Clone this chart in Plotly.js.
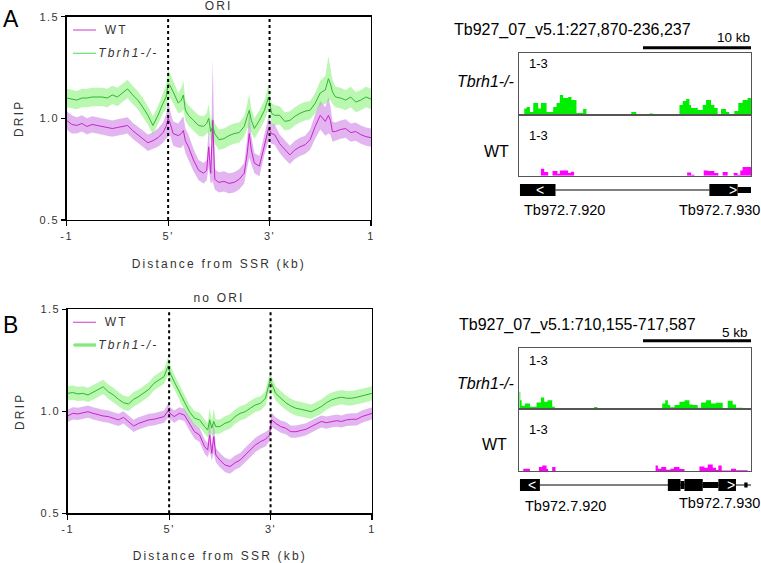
<!DOCTYPE html>
<html><head><meta charset="utf-8">
<script src="https://cdn.plot.ly/plotly-3.0.1.min.js"></script>
<style>
body{margin:0;background:#fff}
#chart .xtick text, #chart .ytick text, #chart .x2tick text, #chart .y2tick text { letter-spacing: 1.5px !important; }
#chart .g-xtitle text, #chart .g-ytitle text, #chart .g-x2title text, #chart .g-y2title text { letter-spacing: 2.2px !important; }
</style>
</head><body><div id="chart" style="width:761px;height:563px"></div>
<script>
// ---------- Panel A (ORI) profile data ----------
const posA = [0,5,10,15,20,25,30,35,40,45,50,55,60,65,70,75,80,85,90,95,98,100,102,105,110,113,115,117,120,125,130,135,138,140,142,144,146,150,155,160,165,170,175,178,180,182,185,190,195,199,202,205,210,215,220,225,230,235,240,245,250,255,258,260,262,265,270,275,280,285,290,295,300];
const wtA = [0.99,0.97,0.965,0.975,0.96,0.97,0.965,0.96,0.955,0.95,0.955,0.96,0.965,0.94,0.92,0.90,0.88,0.89,0.905,0.93,0.96,1.0,0.975,0.925,0.915,0.925,0.94,0.89,0.86,0.795,0.745,0.73,0.745,0.86,0.73,0.99,0.70,0.685,0.69,0.68,0.685,0.70,0.73,0.83,0.925,0.845,0.78,0.765,0.875,0.95,0.925,0.92,0.875,0.845,0.82,0.845,0.86,0.87,0.895,0.96,1.015,0.985,1.015,0.99,0.935,0.935,0.945,0.95,0.93,0.935,0.92,0.91,0.905];
const wtA_sem = [0.045,0.045,0.04,0.04,0.04,0.04,0.04,0.04,0.04,0.04,0.04,0.04,0.04,0.04,0.04,0.04,0.04,0.04,0.045,0.05,0.06,0.09,0.06,0.06,0.06,0.07,0.07,0.06,0.06,0.055,0.05,0.05,0.05,0.1,0.05,0.3,0.05,0.05,0.05,0.05,0.05,0.05,0.05,0.07,0.12,0.07,0.05,0.05,0.05,0.06,0.05,0.05,0.045,0.045,0.045,0.045,0.045,0.045,0.05,0.06,0.07,0.07,0.09,0.07,0.05,0.045,0.045,0.045,0.045,0.045,0.045,0.045,0.045];
const koA = [1.10,1.095,1.09,1.10,1.10,1.105,1.105,1.105,1.10,1.115,1.105,1.125,1.145,1.115,1.09,1.055,1.015,0.965,1.015,1.075,1.105,1.17,1.16,1.13,1.075,1.09,1.115,1.04,1.015,0.99,0.965,0.96,0.975,1.0,0.935,0.96,0.925,0.895,0.9,0.915,0.925,0.93,0.96,1.01,1.04,0.99,0.95,0.99,1.04,1.105,1.025,1.015,1.015,0.985,0.99,1.01,1.025,1.035,1.04,1.075,1.125,1.14,1.195,1.17,1.13,1.105,1.10,1.09,1.105,1.08,1.09,1.105,1.095];
const koA_sem = [0.045,0.045,0.045,0.045,0.045,0.045,0.045,0.045,0.045,0.045,0.045,0.045,0.045,0.045,0.045,0.045,0.045,0.045,0.045,0.05,0.06,0.07,0.06,0.055,0.05,0.06,0.07,0.05,0.05,0.05,0.05,0.05,0.05,0.07,0.05,0.05,0.05,0.05,0.05,0.05,0.05,0.05,0.05,0.06,0.08,0.06,0.05,0.05,0.05,0.06,0.05,0.05,0.045,0.045,0.045,0.045,0.045,0.045,0.045,0.05,0.06,0.07,0.11,0.08,0.06,0.05,0.05,0.05,0.05,0.05,0.05,0.05,0.05];

// ---------- Panel B (no ORI) profile data ----------
const posB = [0,5,10,15,20,25,30,35,40,45,50,55,60,65,70,75,80,85,90,95,99,101,105,110,115,120,125,130,135,138,140,142,144,146,150,155,160,165,170,175,180,185,190,195,199,201,205,210,215,220,225,230,235,240,245,250,255,260,265,270,275,280,285,290,295,300];
const wtB = [0.977,0.99,0.987,0.993,0.998,0.99,0.982,0.977,0.974,0.966,0.958,0.97,0.95,0.928,0.941,0.95,0.958,0.961,0.966,0.974,1.003,0.99,0.974,0.99,0.982,0.941,0.90,0.884,0.827,0.81,0.884,0.794,0.876,0.786,0.761,0.737,0.729,0.748,0.761,0.786,0.81,0.835,0.851,0.863,0.884,0.958,0.941,0.925,0.917,0.90,0.90,0.905,0.912,0.925,0.938,0.95,0.944,0.95,0.954,0.95,0.958,0.961,0.961,0.974,0.982,0.99];
const wtB_sem = [0.03,0.03,0.03,0.03,0.03,0.03,0.03,0.03,0.03,0.03,0.03,0.03,0.03,0.03,0.03,0.03,0.03,0.03,0.03,0.03,0.035,0.03,0.03,0.03,0.03,0.035,0.035,0.035,0.035,0.035,0.08,0.035,0.08,0.035,0.035,0.035,0.035,0.035,0.035,0.035,0.035,0.035,0.035,0.035,0.03,0.035,0.03,0.03,0.03,0.03,0.03,0.03,0.03,0.03,0.03,0.03,0.03,0.03,0.03,0.03,0.03,0.03,0.03,0.03,0.03,0.03];
const koB = [1.088,1.092,1.085,1.088,1.08,1.092,1.105,1.12,1.096,1.08,1.059,1.042,1.036,1.059,1.072,1.088,1.108,1.137,1.154,1.17,1.222,1.186,1.145,1.096,1.039,0.998,0.966,0.958,0.925,0.908,0.958,0.917,0.95,0.925,0.925,0.941,0.95,0.974,0.99,0.998,1.015,1.031,1.039,1.064,1.145,1.137,1.088,1.064,1.042,1.026,1.015,1.01,1.003,0.998,1.01,1.023,1.042,1.056,1.064,1.069,1.064,1.064,1.069,1.075,1.08,1.088];
const koB_sem = [0.035,0.035,0.035,0.035,0.035,0.035,0.035,0.035,0.035,0.035,0.035,0.035,0.035,0.035,0.035,0.035,0.035,0.035,0.035,0.035,0.045,0.04,0.035,0.035,0.035,0.035,0.035,0.035,0.035,0.035,0.06,0.035,0.06,0.035,0.035,0.035,0.035,0.035,0.035,0.035,0.035,0.035,0.035,0.035,0.04,0.035,0.035,0.035,0.035,0.035,0.035,0.035,0.035,0.035,0.035,0.035,0.035,0.035,0.035,0.035,0.035,0.035,0.035,0.035,0.035,0.035];

const xTickVals = [0,100,200,300];
const xTickText = ['-1', "5'", "3'", '1'];
const yTickVals = [0.5,1.0,1.5];
const yTickText = ['0.5','1.0','1.5'];
const markers = [100,200];

// ---------- Genome browser tracks (bp offset in window, coverage 0-3) ----------
const regionA = 'Tb927_07_v5.1:227,870-236,237';
const lenA = 8367;
const koTrackA_x = [0,180,264,384,504,684,780,984,1224,1344,1464,1584,1764,1884,2064,2304,2424,4044,4224,4704,4824,5784,5904,6024,6144,6204,6444,6624,6744,6924,7044,7164,7284,7464,7584,7764,7908,8064,8244];
const koTrackA_y = [0,0.32,0.39,0.15,0.58,0.32,0.58,0.15,0.39,0.58,0.97,0.83,0.88,0.73,0.1,0.29,0,0.15,0,0.07,0,0.49,0.68,0.78,0.49,0.34,0.24,0.49,0.73,0.49,0.34,0.05,0.29,0.15,0,0.19,0.58,0.73,0.83];
const wtTrackA_x = [0,780,900,1044,1200,1380,1464,1764,1860,1980,6060,6204,6324,6660,6804,7044,7188,7344,7524,7740,7884,7980,8064];
const wtTrackA_y = [0,0.34,0.18,0,0.23,0.1,0.26,0.13,0.2,0,0.16,0.05,0,0.26,0.23,0.13,0,0.18,0,0.13,0.05,0.26,0.43];
// gene blocks: [start, end, halfHeight]
const genesA_blocks = [[24,1308,0.6],[6864,7884,0.6],[7884,8367,0.3]];
const genesA_line = [1308,6864];
const genesA_arrows = [[744,'<'],[7704,'>']];
const genesA_names = ['Tb972.7.920','Tb972.7.930'];

const regionB = 'Tb927_07_v5.1:710,155-717,587';
const lenB = 7432;
const koTrackB_x = [0,32,75,181,341,554,693,800,906,1055,1141,2399,2505,4584,4680,4765,4840,4978,5138,5298,5458,5565,5724,5831,5991,6151,6311,6524,6684,6844,6950,7164];
const koTrackB_y = [0.86,0.45,0.18,0.29,0.13,0.34,0.58,0.37,0.45,0.13,0,0.11,0,0.29,0.45,0.21,0.1,0.21,0.37,0.45,0.24,0.21,0.08,0.34,0.45,0.29,0.32,0.03,0.42,0.24,0.08,0];
const wtTrackB_x = [0,128,341,629,736,874,927,1055,1162,4371,4445,4552,4712,4850,4957,5138,5298,5778,5938,6044,6204,6311,6385,6492,6790,6950,7323];
const wtTrackB_y = [0,0.11,0,0.19,0.27,0.1,0,0.19,0,0.27,0.11,0.19,0.06,0.11,0.19,0.1,0,0.22,0.16,0.32,0.16,0.05,0.27,0.03,0.11,0.04,0];
const genesB_blocks = [[21,661,0.6],[4765,5170,0.6],[5170,5298,0.4],[5298,5884,0.6],[5884,6385,0.3],[6385,6950,0.6],[7217,7323,0.25]];
const genesB_line = [661,7430];
const genesB_arrows = [[416,'<'],[6790,'>']];
const genesB_names = ['Tb972.7.920','Tb972.7.930'];

const trackLabel = '1-3';
const seriesNames = ['WT','<i>Tbrh1-/-</i>'];

// ---------- helpers ----------
const W = 761, H = 563;
const px = x => x / W, py = y => 1 - y / H;
const MAG = '#cc22cc', MAGF = 'rgba(190,90,225,0.45)';
const GRN = '#2eb82e', GRNF = 'rgba(90,235,70,0.42)';
const TGRN = '#00ee00', TMAG = '#ff00ff';
const FL = 'Liberation Sans, Arial, sans-serif';

function band(pos, m, s, color, xa, ya) {
  const up = m.map((v,i)=>v+s[i]), lo = m.map((v,i)=>v-s[i]);
  return {x: pos.concat(pos.slice().reverse()), y: up.concat(lo.slice().reverse()),
    fill:'toself', fillcolor: color, line:{width:0}, mode:'lines', showlegend:false,
    hoverinfo:'skip', xaxis:xa, yaxis:ya};
}
function line(pos, m, color, name, xa, ya) {
  return {x: pos, y: m, mode:'lines', line:{color, width:1}, name, xaxis:xa, yaxis:ya, showlegend:false};
}
function track(xs, ys, end, color, xa, ya) {
  return {x: xs.concat([end]), y: ys.concat([ys[ys.length-1]]), mode:'lines',
    line:{shape:'hv', width:0, color}, fill:'tozeroy', fillcolor: color,
    showlegend:false, xaxis:xa, yaxis:ya};
}

const data = [
  band(posA, wtA, wtA_sem, MAGF, 'x', 'y'),
  band(posA, koA, koA_sem, GRNF, 'x', 'y'),
  line(posA, wtA, MAG, seriesNames[0], 'x', 'y'),
  line(posA, koA, GRN, seriesNames[1], 'x', 'y'),
  band(posB, wtB, wtB_sem, MAGF, 'x2', 'y2'),
  band(posB, koB, koB_sem, GRNF, 'x2', 'y2'),
  line(posB, wtB, MAG, seriesNames[0], 'x2', 'y2'),
  line(posB, koB, GRN, seriesNames[1], 'x2', 'y2'),
  track(koTrackA_x, koTrackA_y, lenA, TGRN, 'x3', 'y3'),
  track(wtTrackA_x, wtTrackA_y, lenA, TMAG, 'x4', 'y4'),
  track(koTrackB_x, koTrackB_y, lenB, TGRN, 'x6', 'y6'),
  track(wtTrackB_x, wtTrackB_y, lenB, TMAG, 'x7', 'y7'),
];

const mainFont = {family: FL, size: 11, color: '#333'};
function mainX(dom, anchor) {
  return {domain: dom, anchor, range:[0,300], tickvals: xTickVals, ticktext: xTickText,
    showgrid:false, zeroline:false, showline:true, mirror:true, linecolor:'#000', linewidth:1.3,
    ticks:'outside', ticklen:5, tickwidth:1.2, tickcolor:'#000', tickfont: mainFont,
    title:{text:'Distance from SSR (kb)', font:{family:FL, size:12, color:'#333'}, standoff: 19}};
}
function mainY(dom, anchor) {
  return {domain: dom, anchor, range:[0.5,1.5], tickvals: yTickVals, ticktext: yTickText,
    showgrid:false, zeroline:false, showline:true, mirror:true, linecolor:'#000', linewidth:1.3,
    ticks:'outside', ticklen:4, tickwidth:1.2, tickcolor:'#000', tickfont: mainFont,
    title:{text:'DRIP', font:{family:FL, size:12, color:'#333'}, standoff: 17}};
}
function trX(dom, anchor, len, box) {
  return {domain: dom, anchor, range:[0,len], showgrid:false, zeroline:false, showticklabels:false,
    ticks:'', showline: box, mirror: box, linecolor:'#555', linewidth:1, fixedrange:true};
}
function trY(dom, anchor, rng, box) {
  return {domain: dom, anchor, range: rng, showgrid:false, zeroline:false, showticklabels:false,
    ticks:'', showline: box, mirror: box, linecolor:'#555', linewidth:1, fixedrange:true};
}
const trDom = [px(519.3), px(751)];

const layout = {
  width: W, height: H, margin:{l:0,r:0,t:0,b:0}, paper_bgcolor:'#fff', plot_bgcolor:'rgba(0,0,0,0)',
  font:{family: FL}, showlegend:false,
  xaxis: mainX([px(66.7), px(371)], 'y'),
  yaxis: mainY([py(220), py(16.7)], 'x'),
  xaxis2: mainX([px(67.7), px(372)], 'y2'),
  yaxis2: mainY([py(513.3), py(309.3)], 'x2'),
  xaxis3: trX(trDom, 'y3', lenA, true), yaxis3: trY([py(115), py(53.3)], 'x3', [0,3], true),
  xaxis4: trX(trDom, 'y4', lenA, true), yaxis4: trY([py(175.7), py(115)], 'x4', [0,3], true),
  xaxis5: trX(trDom, 'y5', lenA, false), yaxis5: trY([py(200), py(180)], 'x5', [-1,1], false),
  xaxis6: trX(trDom, 'y6', lenB, true), yaxis6: trY([py(409.3), py(348.3)], 'x6', [0,3], true),
  xaxis7: trX(trDom, 'y7', lenB, true), yaxis7: trY([py(471), py(409.3)], 'x7', [0,3], true),
  xaxis8: trX(trDom, 'y8', lenB, false), yaxis8: trY([py(495), py(475)], 'x8', [-1,1], false),
  shapes: [], annotations: []
};

// dotted 5'/3' markers
markers.forEach(m => {
  ['', '2'].forEach(k => layout.shapes.push({type:'line', xref:'x'+k, yref:'y'+k+' domain',
    x0:m, x1:m, y0:0, y1:1, line:{color:'#000', width:2, dash:'dot'}}));
});

// gene models
function genes(blocks, ln, arrows, xa, ya) {
  layout.shapes.push({type:'line', xref:xa, yref:ya, x0:ln[0], x1:ln[1], y0:0, y1:0, line:{color:'#000', width:1}});
  blocks.forEach(b => layout.shapes.push({type:'rect', xref:xa, yref:ya, x0:b[0], x1:b[1], y0:-b[2], y1:b[2],
    fillcolor:'#000', line:{width:0}}));
  arrows.forEach(a => layout.annotations.push({xref:xa, yref:ya, x:a[0], y:0.05, text:a[1], showarrow:false,
    font:{family:FL, size:14, color:'#fff'}, xanchor:'center', yanchor:'middle'}));
}
genes(genesA_blocks, genesA_line, genesA_arrows, 'x5', 'y5');
genes(genesB_blocks, genesB_line, genesB_arrows, 'x8', 'y8');

// scale bars
[47.7, 340.7].forEach(y => layout.shapes.push({type:'line', xref:'paper', yref:'paper',
  x0:px(643), x1:px(751), y0:py(y), y1:py(y), line:{color:'#000', width:3}}));

function ann(text, x, y, size, opts) {
  layout.annotations.push(Object.assign({xref:'paper', yref:'paper', x:px(x), y:py(y), text, showarrow:false,
    font:{family:FL, size, color:'#000'}, xanchor:'center', yanchor:'middle'}, opts||{}));
}
const grey = {family:FL, size:12, color:'#333'};
ann('ORI', 218, 6, 12, {font:grey});
ann('no ORI', 219, 298, 12, {font:grey});
// legends with key lines
const legendRows = [[30, 0], [53.3, 1], [322.3, 0], [345, 1]];
legendRows.forEach(([y, k], i) => {
  ann(seriesNames[k], 105, y, 12, {font:grey, xanchor:'left'});
  if (k === 1 && i === 3) layout.shapes.push({type:'line', xref:'paper', yref:'paper', x0:px(74), x1:px(96),
    y0:py(y), y1:py(y), line:{color:'rgba(120,235,100,0.6)', width:4}});
  layout.shapes.push({type:'line', xref:'paper', yref:'paper', x0:px(73), x1:px(96), y0:py(y), y1:py(y),
    line:{color: k === 0 ? '#d45ad4' : '#6fdc6f', width:1.2}});
});
ann('A', 11, 19, 23);
ann('B', 10, 325, 23);
// right panel texts
ann(regionA, 572, 30, 16);
ann(regionB, 577, 325, 16);
ann('10 kb', 752, 38, 13.5, {xanchor:'right'});
ann('5 kb', 750, 333, 13.5, {xanchor:'right'});
ann(trackLabel, 538, 64, 13);
ann(trackLabel, 538, 135, 13);
ann(trackLabel, 538, 360, 13);
ann(trackLabel, 538, 429, 13);
ann('<i>Tbrh1-/-</i>', 516, 82, 16, {xanchor:'right'});
ann('WT', 511, 152, 16, {xanchor:'right'});
ann('<i>Tbrh1-/-</i>', 516, 383, 16, {xanchor:'right'});
ann('WT', 509, 444, 16, {xanchor:'right'});
ann(genesA_names[0], 564, 210, 14.5);
ann(genesA_names[1], 719, 210, 14.5);
ann(genesB_names[0], 565, 506, 14.5);
ann(genesB_names[1], 719, 503, 14.5);

// letter-spaced left-panel labels (12px annotations only)
function spaceLeftTexts() {
  const want = ['ORI', 'no ORI', 'WT', 'Tbrh1-/-'];
  document.querySelectorAll('#chart g.annotation text').forEach(t => {
    const fs = parseFloat(t.style.fontSize || getComputedStyle(t).fontSize);
    if (want.includes(t.textContent) && Math.abs(fs - 12) < 0.5) {
      t.style.setProperty('letter-spacing', '2.2px', 'important');
      t.setAttribute('letter-spacing', '2.2px');
    }
  });
}
Plotly.newPlot('chart', data, layout, {staticPlot:true}).then(gd => {
  spaceLeftTexts();
  gd.on('plotly_afterplot', spaceLeftTexts);
  [0, 50, 150, 400].forEach(ms => setTimeout(spaceLeftTexts, ms));
});
</script>
</body></html>
